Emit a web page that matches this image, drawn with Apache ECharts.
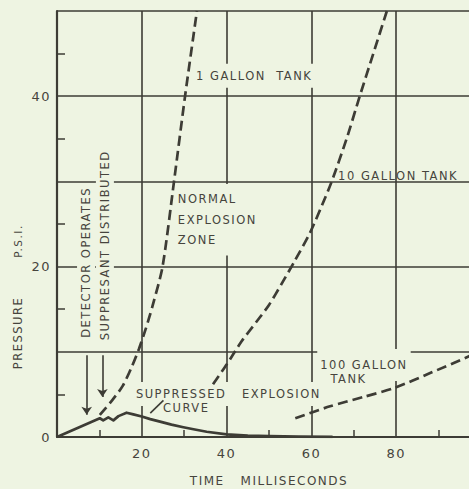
<!DOCTYPE html>
<html><head><meta charset="utf-8">
<script src="https://cdn.jsdelivr.net/npm/echarts@6/dist/echarts.min.js"></script>
<style>
html,body{margin:0;padding:0;background:#eef4e2;}
#c{width:469px;height:489px;}
#c svg text{letter-spacing:1.5px;}
</style></head><body><div id="c"></div>
<script>
// ---- data ----
const xTickLabels = [20, 40, 60, 80];
const yTickLabels = [0, 20, 40];
const oneGallonTank = [[10.1,2.6],[13,4.3],[15.5,6],[17.6,8.2],[19.3,10.3],[21,12.8],[22.6,15.5],[24.9,20],[27.6,30],[30.2,40],[33.0,50]];
const tenGallonTank = [[36.8,6.2],[40,8.5],[43.5,11.2],[47,13.5],[50,15.5],[53,18],[56,20.6],[59.7,24],[62.5,27.2],[64.8,30],[68.3,35],[71.4,40],[74.6,45],[77.8,50]];
const hundredGallonTank = [[56.2,2.2],[64.4,3.6],[72.3,4.7],[79.8,5.8],[88,7.5],[97.3,9.5],[100,10.1]];
const suppressedCurve = [[0,0],[10.1,2.2],[10.9,1.95],[12.1,2.3],[13.3,1.95],[14.5,2.45],[16.4,2.85],[18,2.65],[20,2.4],[22,2.1],[24.3,1.8],[27,1.45],[29.8,1.15],[32.5,0.88],[35.3,0.62],[40,0.3],[45,0.17],[50,0.1],[57,0.05],[65,0.02]];
// arrows: [time, from psi, to psi]
const arrows = [[7.0,9.6,2.6],[10.7,9.6,4.7]];
// leader from "CURVE" label to the suppressed curve
const leader = [[22.0,2.8],[25.1,4.3]];

// ---- styling ----
const ink = '#3d3c35', txt = '#46443d', bg = '#eef4e2', FONT = 'DejaVu Sans';
const LS = 1.5; // letter spacing applied via CSS

const chart = echarts.init(document.getElementById('c'), null, {renderer:'svg', width:469, height:489});

function dashed(name, data){
  return {name, type:'line', data, showSymbol:false, smooth:0.25, silent:true, z:3,
    lineStyle:{color:ink, width:2.7, type:[10,5], cap:'butt'}};
}

const option = {
  backgroundColor: bg,
  animation: false,
  grid: {left:57, right:-12, top:11, bottom:52, containLabel:false, outerBoundsMode:'none'},
  xAxis: {
    type:'value', min:0, max:100, interval:20,
    name:'TIME   MILLISECONDS', nameLocation:'middle', nameGap:38,
    nameTextStyle:{color:txt, fontFamily:FONT, fontSize:12},
    axisLine:{show:true, onZero:false, lineStyle:{color:ink, width:2.2}},
    axisTick:{show:false, inside:true},
    minorTick:{show:true, splitNumber:2, length:7, lineStyle:{color:ink, width:1.5}},
    minorSplitLine:{show:false},
    axisLabel:{margin:10, color:txt, fontFamily:FONT, fontSize:13,
      formatter: v => xTickLabels.includes(v) ? String(v) : ''},
    splitLine:{show:true, lineStyle:{color:ink, width:1.6}}
  },
  yAxis: {
    type:'value', min:0, max:50, interval:10,
    axisLine:{show:true, onZero:false, lineStyle:{color:ink, width:2.2}},
    axisTick:{show:false, inside:true},
    minorTick:{show:true, splitNumber:2, length:8, lineStyle:{color:ink, width:1.5}},
    minorSplitLine:{show:false},
    axisLabel:{margin:6, color:txt, fontFamily:FONT, fontSize:13,
      formatter: v => yTickLabels.includes(v) ? String(v) : ''},
    splitLine:{show:true, lineStyle:{color:ink, width:1.6}}
  },
  series: [
    dashed('1 gallon tank', oneGallonTank),
    dashed('10 gallon tank', tenGallonTank),
    dashed('100 gallon tank', hundredGallonTank),
    {name:'suppressed explosion curve', type:'line', data:suppressedCurve, showSymbol:false, smooth:false, silent:true, z:3,
      lineStyle:{color:ink, width:2.7, join:'round'},
      markLine:{silent:true, animation:false, symbol:['none','arrow'], symbolSize:8,
        label:{show:false}, emphasis:{disabled:true},
        lineStyle:{color:ink, width:1.6, type:'solid'},
        data: arrows.map(a => [{coord:[a[0],a[1]]},{coord:[a[0],a[2]]}]).concat([
          [{coord:leader[0], symbol:'none'},{coord:leader[1], symbol:'none'}]
        ])
      }
    }
  ]
};
chart.setOption(option);

// ---- annotations (positioned in data coordinates) ----
const notes = [
  {text:'1 GALLON  TANK', at:[32.1,42.4], align:'left', pad:[6,3,6,3]},
  {text:'NORMAL\nEXPLOSION\nZONE', at:[27.8,25.5], align:'left', lineHeight:20.5, pad:[6,3,4,3]},
  {text:'10 GALLON TANK', at:[66.3,30.6], align:'left'},
  {text:'100 GALLON', at:[72.4,8.45], align:'center', pad:[4,3,16,3]},
  {text:'TANK', at:[68.75,6.8], align:'center'},
  {text:'SUPPRESSED   EXPLOSION', at:[17.9,5.05], align:'left', pad:[10,3,2,3]},
  {text:'CURVE', at:[25.0,3.4], align:'left'},
  {text:'DETECTOR OPERATES', at:[6.85,20.5], align:'center', rotate:true, pad:[3,2,3,2]},
  {text:'SUPPRESANT DISTRIBUTED', at:[11.3,22.5], align:'center', rotate:true, pad:[3,2,3,2]}
];
const graphics = notes.map(n => {
  const p = chart.convertToPixel({gridIndex:0}, n.at);
  const longest = Math.max(...n.text.split('\n').map(s => s.length));
  const extra = LS * longest;
  let pad = null;
  if (n.pad) {
    pad = n.pad.slice();
    if (n.align === 'left') pad[1] += extra; else { pad[1] += extra/2; pad[3] += extra/2; }
  }
  const st = {text:n.text, fill:txt, fontFamily:FONT, fontSize:11.5, align:n.align, verticalAlign:'middle'};
  if (n.lineHeight) st.lineHeight = n.lineHeight;
  if (pad) { st.backgroundColor = bg; st.padding = pad; }
  return {type:'text', x:p[0], y:p[1], rotation: n.rotate ? Math.PI/2 : 0, z:1, silent:true, style:st};
});
// y-axis title (rotated)
graphics.push({type:'text', x:18, y:333, rotation:Math.PI/2, z:1, silent:true,
  style:{text:'PRESSURE', fill:txt, fontFamily:FONT, fontSize:11.5, align:'center', verticalAlign:'middle'}});
graphics.push({type:'text', x:18, y:241, rotation:Math.PI/2, z:1, silent:true,
  style:{text:'P.S.I.', fill:txt, fontFamily:FONT, fontSize:10.5, align:'center', verticalAlign:'middle'}});
chart.setOption({graphic: graphics});
</script></body></html>
